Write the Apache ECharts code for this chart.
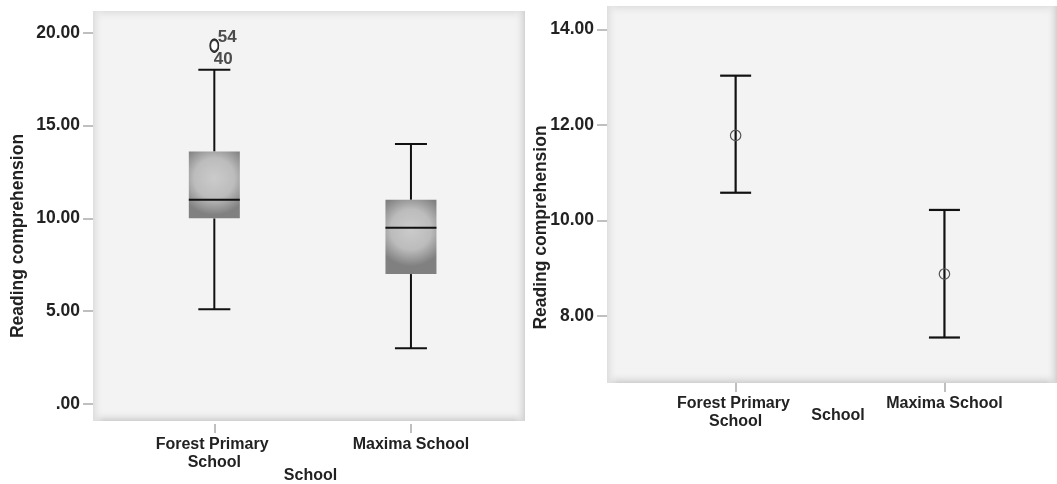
<!DOCTYPE html>
<html>
<head>
<meta charset="utf-8">
<script src="https://cdn.jsdelivr.net/npm/echarts@6/dist/echarts.min.js"></script>
<style>
    html, body { margin: 0; padding: 0; background: #fff; }
    #chart { width: 1057px; height: 484px; }
</style>
</head>
<body>
<div id="chart"></div>
<script>
// categories (x axis of both panels)
const categories = ['Forest Primary School', 'Maxima School'];

// left panel: boxplot
const boxLow = [5.1, 3];
const boxQ1 = [10, 7];
const boxMedian = [11, 9.5];
const boxQ3 = [13.6, 11];
const boxHigh = [18, 14];
const outlierValues = [19.3, 19.3];
const outlierCases = ['54', '40'];
const boxTicks = [0, 5, 10, 15, 20];

// right panel: mean with error bars
const meanValues = [11.78, 8.88];
const ciLower = [10.58, 7.55];
const ciUpper = [13.03, 10.22];
const meanTicks = [8, 10, 12, 14];

const chart = echarts.init(document.getElementById('chart'));

const FONT = 'Liberation Sans, Arial, sans-serif';
const TXT = '#222';

// plot areas
const g0 = { left: 93, top: 11, width: 432, height: 410 };
const g1 = { left: 607, top: 6, width: 450, height: 377 };

// soft darker edges inside each plot area
function shade(g) {
    const e = 11;
    const mk = (shape, grad) => ({ type: 'rect', shape, style: { fill: grad }, z: 1, silent: true });
    const lg = (x0, y0, x1, y1, c) => new echarts.graphic.LinearGradient(x0, y0, x1, y1, [
        { offset: 0, color: c },
        { offset: 1, color: 'rgba(243,243,243,0)' },
    ]);
    return [
        mk({ x: g.left, y: g.top, width: g.width, height: e }, lg(0, 0, 0, 1, '#e0e0e0')),
        mk({ x: g.left, y: g.top + g.height - e, width: g.width, height: e }, lg(0, 1, 0, 0, '#cfcfcf')),
        mk({ x: g.left, y: g.top, width: e, height: g.height }, lg(0, 0, 1, 0, '#dedede')),
        mk({ x: g.left + g.width - e, y: g.top, width: e, height: g.height }, lg(1, 0, 0, 0, '#d2d2d2')),
    ];
}

function renderBox(params, api) {
    const x = api.value(0);
    const low = api.coord([x, api.value(1)]);
    const q1 = api.coord([x, api.value(2)]);
    const med = api.coord([x, api.value(3)]);
    const q3 = api.coord([x, api.value(4)]);
    const high = api.coord([x, api.value(5)]);
    const cx = low[0];
    const half = 25.5;
    const cap = 16;
    const ln = { stroke: '#111', lineWidth: 2 };
    return {
        type: 'group',
        children: [
            { type: 'line', shape: { x1: cx, y1: low[1], x2: cx, y2: q1[1] }, style: ln },
            { type: 'line', shape: { x1: cx, y1: q3[1], x2: cx, y2: high[1] }, style: ln },
            { type: 'line', shape: { x1: cx - cap, y1: low[1], x2: cx + cap, y2: low[1] }, style: ln },
            { type: 'line', shape: { x1: cx - cap, y1: high[1], x2: cx + cap, y2: high[1] }, style: ln },
            {
                type: 'rect',
                shape: { x: cx - half, y: q3[1], width: half * 2, height: q1[1] - q3[1] },
                style: {
                    fill: new echarts.graphic.RadialGradient(0.5, 0.4, 0.72, [
                        { offset: 0, color: '#cbcbcb' },
                        { offset: 0.55, color: '#bcbcbc' },
                        { offset: 1, color: '#808080' },
                    ]),
                },
            },
            { type: 'line', shape: { x1: cx - half, y1: med[1], x2: cx + half, y2: med[1] }, style: ln },
        ],
    };
}

function renderErr(params, api) {
    const x = api.value(0);
    const lo = api.coord([x, api.value(1)]);
    const m = api.coord([x, api.value(2)]);
    const hi = api.coord([x, api.value(3)]);
    const cx = lo[0];
    const cap = 15.5;
    const ln = { stroke: '#111', lineWidth: 2.2 };
    return {
        type: 'group',
        children: [
            { type: 'line', shape: { x1: cx, y1: lo[1], x2: cx, y2: hi[1] }, style: ln },
            { type: 'line', shape: { x1: cx - cap, y1: lo[1], x2: cx + cap, y2: lo[1] }, style: ln },
            { type: 'line', shape: { x1: cx - cap, y1: hi[1], x2: cx + cap, y2: hi[1] }, style: ln },
            { type: 'circle', shape: { cx: cx, cy: m[1], r: 5.2 }, style: { fill: 'none', stroke: '#555', lineWidth: 1.2 } },
        ],
    };
}

const catText = { color: TXT, fontFamily: FONT, fontWeight: 'bold', fontSize: 16 };
const numText = { color: TXT, fontFamily: FONT, fontWeight: 'bold', fontSize: 17.5 };

function xAxisOf(idx, min, max, nameGap, namePad, labelMargin) {
    return {
        type: 'value',
        gridIndex: idx,
        min: min,
        max: max,
        offset: idx === 0 ? 3 : 0,
        name: 'School',
        nameLocation: 'middle',
        nameGap: nameGap,
        nameMoveOverlap: false,
        nameTextStyle: Object.assign({ padding: namePad }, catText),
        axisLine: { show: false, onZero: false },
        splitLine: { show: false },
        axisTick: { show: true, length: 9, customValues: [1, 2], lineStyle: { color: '#aaa', width: 1.5 } },
        axisLabel: Object.assign({
            customValues: [1, 2],
            margin: labelMargin,
            width: 130,
            overflow: 'break',
            lineHeight: 18,
            align: 'center',
            formatter: (v) => categories[Math.round(v) - 1],
        }, catText),
    };
}

function yAxisOf(idx, min, max, ticks, nameGap, pad) {
    return {
        type: 'value',
        gridIndex: idx,
        min: min,
        max: max,
        name: 'Reading comprehension',
        nameLocation: 'middle',
        nameGap: nameGap,
        nameMoveOverlap: false,
        nameTextStyle: Object.assign({ padding: pad }, numText),
        axisLine: { show: false, onZero: false },
        splitLine: { show: false },
        axisTick: { show: true, length: 10, customValues: ticks, lineStyle: { color: '#aaa', width: 1.5 } },
        axisLabel: Object.assign({
            customValues: ticks,
            margin: 13,
            formatter: (v) => (v === 0 ? '.00' : v.toFixed(2)),
        }, numText),
    };
}

const option = {
    backgroundColor: '#fff',
    animation: false,
    grid: [
        Object.assign({ show: true, backgroundColor: '#f3f3f3', borderWidth: 0, outerBoundsMode: 'none', containLabel: false }, g0),
        Object.assign({ show: true, backgroundColor: '#f3f3f3', borderWidth: 0, outerBoundsMode: 'none', containLabel: false }, g1),
    ],
    graphic: shade(g0).concat(shade(g1)),
    xAxis: [
        xAxisOf(0, 0.383, 2.58, 44, [0, 0, 0, 3], 12),
        xAxisOf(1, 0.384, 2.539, 25, [0, 0, 0, 12], 12),
    ],
    yAxis: [
        yAxisOf(0, -0.915, 21.17, boxTicks, 66, [0, 40, 0, 0]),
        yAxisOf(1, 6.598, 14.488, meanTicks, 57, [0, 66, 0, 0]),
    ],
    series: [
        {
            type: 'custom',
            xAxisIndex: 0,
            yAxisIndex: 0,
            z: 5,
            renderItem: renderBox,
            encode: { x: 0, y: [1, 2, 3, 4, 5] },
            data: categories.map((c, i) => [i + 1, boxLow[i], boxQ1[i], boxMedian[i], boxQ3[i], boxHigh[i]]),
        },
        {
            type: 'scatter',
            xAxisIndex: 0,
            yAxisIndex: 0,
            z: 6,
            symbol: 'emptyCircle',
            symbolSize: [8, 12],
            itemStyle: { color: '#1e1e1e', borderWidth: 3.2 },
            data: outlierValues.map((v, i) => ({
                value: [1, v],
                label: {
                    show: true,
                    position: 'inside',
                    formatter: outlierCases[i],
                    offset: i === 0 ? [13, -8] : [9, 13.5],
                    color: TXT,
                    fontFamily: FONT,
                    fontWeight: 'bold',
                    fontSize: 17,
                },
            })),
        },
        {
            type: 'custom',
            xAxisIndex: 1,
            yAxisIndex: 1,
            z: 5,
            renderItem: renderErr,
            encode: { x: 0, y: [1, 2, 3] },
            data: categories.map((c, i) => [i + 1, ciLower[i], meanValues[i], ciUpper[i]]),
        },
    ],
};

chart.setOption(option);
</script>
</body>
</html>
